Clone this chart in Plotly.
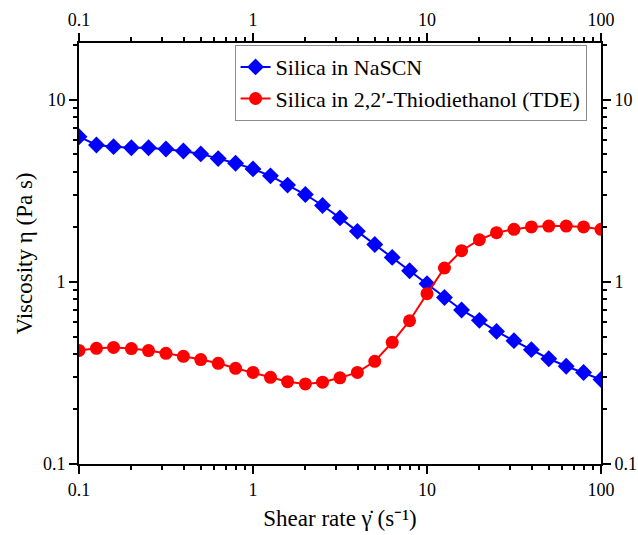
import plotly.graph_objects as go

shear_rate = [0.1, 0.126, 0.158, 0.2, 0.251, 0.316, 0.398, 0.501, 0.631, 0.794,
              1.0, 1.26, 1.58, 2.0, 2.51, 3.16, 3.98, 5.01, 6.31, 7.94,
              10.0, 12.6, 15.8, 20.0, 25.1, 31.6, 39.8, 50.1, 63.1, 79.4, 100.0]

visc_nascn = [6.25, 5.63, 5.51, 5.44, 5.44, 5.35, 5.22, 5.03, 4.74, 4.47,
              4.16, 3.81, 3.39, 3.01, 2.62, 2.24, 1.89, 1.60, 1.36, 1.15,
              0.975, 0.82, 0.70, 0.614, 0.534, 0.475, 0.424, 0.378, 0.344, 0.318, 0.291]

visc_tde = [0.420, 0.431, 0.436, 0.430, 0.419, 0.405, 0.390, 0.374, 0.357, 0.335,
            0.318, 0.299, 0.283, 0.275, 0.281, 0.297, 0.318, 0.366, 0.465, 0.611,
            0.86, 1.19, 1.48, 1.70, 1.86, 1.94, 2.00, 2.02, 2.02, 2.00, 1.94]

series_names = ["Silica in NaSCN", "Silica in 2,2\u2032-Thiodiethanol (TDE)"]

x_tickvals = [0.1, 1, 10, 100]
x_ticktext = ["0.1", "1", "10", "100"]
y_tickvals = [0.1, 1, 10]
y_ticktext = ["0.1", "1", "10"]

FONT = "Liberation Serif, Times New Roman, serif"

fig = go.Figure()
fig.add_trace(go.Scatter(
    x=shear_rate, y=visc_nascn, mode="lines+markers", name=series_names[0],
    line=dict(color="#0000FF", width=2),
    marker=dict(symbol="diamond", size=13, color="#0000FF"),
))
fig.add_trace(go.Scatter(
    x=shear_rate, y=visc_tde, mode="lines+markers", name=series_names[1],
    line=dict(color="#FF0000", width=2),
    marker=dict(symbol="circle", size=13, color="#FF0000"),
))
# invisible trace to activate mirrored labelled axes
fig.add_trace(go.Scatter(
    x=shear_rate, y=visc_nascn, xaxis="x2", yaxis="y2", mode="markers",
    marker=dict(opacity=0), showlegend=False, hoverinfo="skip",
))

common = dict(
    type="log", showline=True, linecolor="black", linewidth=2,
    ticks="outside", ticklen=8, tickwidth=2, tickcolor="black",
    showgrid=False, zeroline=False, automargin=False,
    tickfont=dict(family=FONT, size=18, color="black"),
    minor=dict(ticks="outside", ticklen=4, tickwidth=1.5, tickcolor="black",
               dtick="D1", showgrid=False),
)

xr = [-1, 2]
yr = [-1, 1.31]

fig.update_layout(
    width=638, height=535,
    margin=dict(l=79, r=37, t=43, b=71),
    paper_bgcolor="white", plot_bgcolor="white",
    font=dict(family=FONT, color="black"),
    showlegend=True,
    legend=dict(
        x=0.298, y=0.995, xanchor="left", yanchor="top",
        bgcolor="white", bordercolor="#8c8c8c", borderwidth=1,
        font=dict(family=FONT, size=22, color="black"),
        tracegroupgap=0, itemsizing="trace",
    ),
    xaxis=dict(
        **common, range=xr, tickvals=x_tickvals, ticktext=x_ticktext,
        title=dict(text="Shear rate \u03b3\u0307 (s\u207b\u00b9)",
                   font=dict(family=FONT, size=23, color="black"), standoff=11),
    ),
    yaxis=dict(
        **common, range=yr, tickvals=y_tickvals, ticktext=y_ticktext,
        title=dict(text="Viscosity \u03b7 (Pa s)",
                   font=dict(family=FONT, size=23, color="black"), standoff=4),
    ),
    xaxis2=dict(
        **common, range=xr, tickvals=x_tickvals, ticktext=x_ticktext,
        overlaying="x", side="top", anchor="y",
    ),
    yaxis2=dict(
        **common, range=yr, tickvals=y_tickvals, ticktext=y_ticktext,
        overlaying="y", side="right", anchor="x",
    ),
)

fig.write_html("out.html")
